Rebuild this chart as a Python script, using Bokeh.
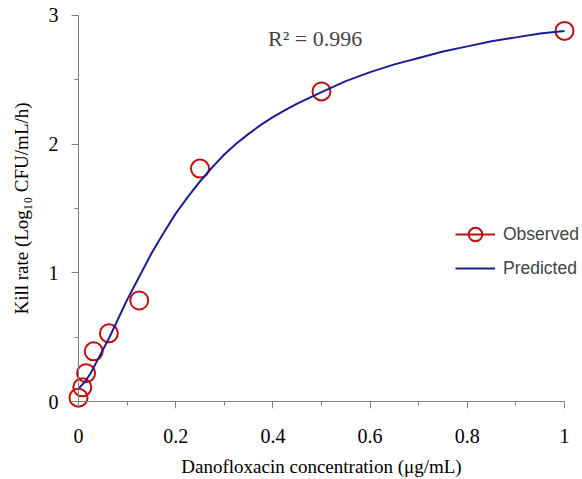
from bokeh.plotting import figure
from bokeh.models import Range1d, Label, Legend, LegendItem, FixedTicker, LinearAxis
from bokeh.embed import file_html
from bokeh.resources import INLINE

# Observed data
obs_conc = [0.0, 0.0078, 0.0156, 0.03125, 0.0625, 0.125, 0.25, 0.5, 1.0]
obs_kill = [0.03, 0.11, 0.22, 0.39, 0.53, 0.785, 1.81, 2.41, 2.88]

# Predicted curve
pred_conc = [0.0, 0.0125, 0.025, 0.0375, 0.05, 0.0625, 0.075, 0.0875, 0.1, 0.1125,
             0.125, 0.15, 0.175, 0.2, 0.225, 0.25, 0.275, 0.3, 0.325, 0.35, 0.375,
             0.4, 0.425, 0.45, 0.475, 0.5, 0.55, 0.6, 0.65, 0.7, 0.75, 0.8, 0.85,
             0.9, 0.95, 1.0]
pred_kill = [0.10, 0.15, 0.22, 0.31, 0.40, 0.49, 0.59, 0.69, 0.79, 0.88,
             0.97, 1.15, 1.31, 1.46, 1.59, 1.71, 1.82, 1.92, 2.005, 2.08, 2.15,
             2.21, 2.265, 2.315, 2.36, 2.405, 2.49, 2.56, 2.62, 2.67, 2.72, 2.76, 2.80,
             2.83, 2.86, 2.88]

x_ticks = [0, 0.2, 0.4, 0.6, 0.8, 1]
x_tick_labels = ["0", "0.2", "0.4", "0.6", "0.8", "1"]
x_minor = [0.1, 0.3, 0.5, 0.7, 0.9]
y_ticks = [0, 1, 2, 3]
y_tick_labels = ["0", "1", "2", "3"]
y_minor = [0.5, 1.5, 2.5]

RED = "#bf1010"
BLUE = "#1c1c96"
AXIS = "#808080"

p = figure(width=582, height=479, output_backend="svg", toolbar_location=None,
           x_range=Range1d(-0.037037, 1.037037), y_range=Range1d(-0.0544, 3.0544),
           min_border_left=60, min_border_right=0, min_border_top=8,
           min_border_bottom=71)
p.xgrid.visible = False
p.ygrid.visible = False
p.outline_line_color = None
p.background_fill_color = "white"

# Label-only axes at the frame edges
for ax, ticks, labels in [(p.xaxis[0], x_ticks, x_tick_labels),
                          (p.yaxis[0], y_ticks, y_tick_labels)]:
    ax.ticker = FixedTicker(ticks=ticks, minor_ticks=[])
    ax.major_label_overrides = {t: l for t, l in zip(ticks, labels)}
    ax.axis_line_color = None
    ax.major_tick_line_color = None
    ax.minor_tick_line_color = None
    ax.major_tick_in = 0
    ax.major_tick_out = 0
    ax.minor_tick_in = 0
    ax.minor_tick_out = 0
    ax.major_label_text_font = "Liberation Serif"
    ax.major_label_text_font_size = "20px"
    ax.major_label_text_color = "black"
    ax.axis_label_text_font = "Liberation Serif"
    ax.axis_label_text_font_size = "19px"
    ax.axis_label_text_font_style = "normal"
    ax.axis_label_text_color = "black"

p.xaxis[0].axis_label = "Danofloxacin concentration (μg/mL)"
p.yaxis[0].axis_label = "Kill rate (Log₁₀ CFU/mL/h)"
p.xaxis[0].major_label_standoff = 20
p.yaxis[0].major_label_standoff = 2
p.xaxis[0].axis_label_standoff = 10
p.yaxis[0].axis_label_standoff = 14

# Axis lines and ticks drawn at data zero
x_line_axis = LinearAxis(fixed_location=0, bounds=(0, 1),
                         ticker=FixedTicker(ticks=x_ticks, minor_ticks=x_minor),
                         axis_line_color=AXIS, major_tick_line_color=AXIS,
                         minor_tick_line_color=AXIS, major_tick_in=7, major_tick_out=0,
                         minor_tick_in=4, minor_tick_out=0, major_label_standoff=0,
                         major_label_text_font_size="0px",
                         major_label_overrides={t: "" for t in x_ticks})
y_line_axis = LinearAxis(fixed_location=0, bounds=(0, 3),
                         ticker=FixedTicker(ticks=y_ticks, minor_ticks=y_minor),
                         axis_line_color=AXIS, major_tick_line_color=AXIS,
                         minor_tick_line_color=AXIS, major_tick_in=0, major_tick_out=7,
                         minor_tick_in=0, minor_tick_out=4, major_label_standoff=0,
                         major_label_text_font_size="0px",
                         major_label_overrides={t: "" for t in y_ticks})
p.add_layout(x_line_axis, "above")
p.add_layout(y_line_axis, "left")

obs = p.scatter(obs_conc, obs_kill, size=18, fill_color=None,
                line_color=RED, line_width=2)
pred = p.line(pred_conc, pred_kill, line_color=BLUE, line_width=2)
obs_line = p.line(obs_conc, obs_kill, line_color=RED, line_width=2, visible=False)

legend = Legend(items=[LegendItem(label="Observed", renderers=[obs_line, obs]),
                       LegendItem(label="Predicted", renderers=[pred])],
                location=(395, 123), glyph_width=40, glyph_height=34,
                spacing=0, padding=0, margin=0, label_standoff=8,
                label_text_font="Liberation Sans", label_text_font_size="17.5px",
                background_fill_alpha=0, border_line_color=None)
p.add_layout(legend)

p.add_layout(Label(x=0.39, y=2.82, text="R² = 0.996", text_font="Liberation Serif",
                   text_font_size="22px", text_baseline="middle"))

open("out.html", "w").write(file_html(p, INLINE))
